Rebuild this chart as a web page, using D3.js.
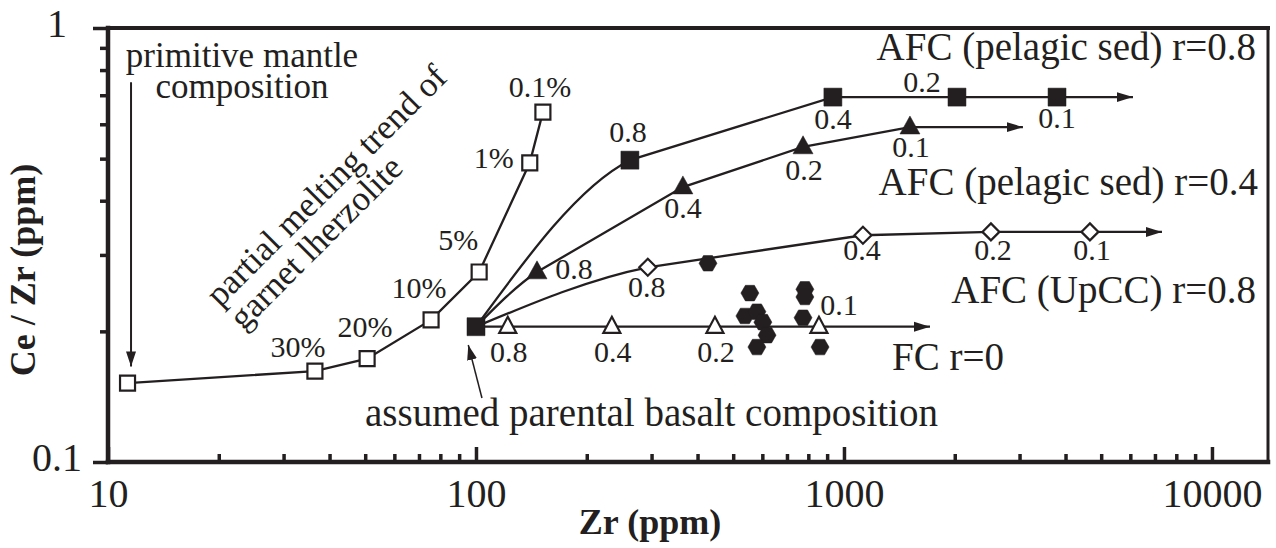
<!DOCTYPE html>
<html>
<head>
<meta charset="utf-8">
<script src="https://cdn.jsdelivr.net/npm/d3@7"></script>
<style>
  html, body { margin: 0; padding: 0; background: #fff; }
  svg { display: block; font-family: "Liberation Serif", "Times New Roman", serif; }
</style>
</head>
<body>
<div id="chart"></div>
<script>
/* ===== DATA ===== */
// partial melting trend of garnet lherzolite (open squares)
const meltZr = [11.3, 36.5, 50.6, 75.5, 102, 140, 152];
const meltRatio = [0.152, 0.162, 0.173, 0.2125, 0.274, 0.489, 0.640];
const meltLabels = ["", "30%", "20%", "10%", "5%", "1%", "0.1%"];

// assumed parental basalt
const parentZr = 100;
const parentRatio = 0.205;

// AFC (pelagic sed) r=0.8 (filled squares)
const afc08Zr = [262, 933, 2028, 3793];
const afc08Ratio = [0.496, 0.693, 0.693, 0.693];
const afc08End = 6100;

// AFC (pelagic sed) r=0.4 (filled triangles)
const afc04Zr = [146.5, 365, 774, 1511];
const afc04Ratio = [0.274, 0.430, 0.532, 0.591];
const afc04End = 3064;

// AFC (UpCC) r=0.8 (open diamonds)
const upccZr = [293, 1126, 2508, 4660];
const upccRatio = [0.281, 0.333, 0.339, 0.339];
const upccEnd = 7314;

// FC r=0 (open triangles)
const fcZr = [122, 234, 446, 855];
const fcRatio = [0.205, 0.205, 0.205, 0.205];
const fcEnd = 1713;

const fractionLabels = ["0.8", "0.4", "0.2", "0.1"];

// samples (filled hexagons)
const sampleZr = [427, 555, 538, 580, 602, 618, 580, 783, 783, 774, 861];
const sampleRatio = [0.287, 0.245, 0.217, 0.222, 0.210, 0.196, 0.184, 0.250, 0.240, 0.215, 0.184];

// axes
const xMajor = [10, 100, 1000, 10000];
const xMinor = [20, 30, 40, 50, 60, 70, 80, 90, 200, 300, 400, 500, 600, 700, 800, 900,
    2000, 3000, 4000, 5000, 6000, 7000, 8000, 9000];
const yMajor = [0.1, 1];
const yMinor = [0.2, 0.3, 0.4, 0.5, 0.6, 0.7, 0.8, 0.9];
const xDomain = [10, 14200];
const yDomain = [0.1, 1];

/* ===== LAYOUT ===== */
const width = 1276;
const height = 548;
const plotLeft = 108, plotRight = 1268, plotTop = 28, plotBottom = 462;
const ink = "#231f20";

// label offsets [dx, dy] from marker centre (text baseline, centred)
const meltLabelPos = [[0, 0], [-17, -14], [-2, -22], [-12, -22], [-21, -22], [-36, 5], [-3, -15]];
const afc08LabelPos = [[-2, -18], [0, 32], [-35, -5], [0, 31]];
const afc04LabelPos = [[37, 7], [0, 31], [1, 33], [1, 30]];
const upccLabelPos = [[-1, 30], [-1, 25], [2, 28], [2, 28]];
const fcLabelPos = [[1, 35], [1, 35], [1, 35], [20, -12]];

/* ===== SVG ===== */
const svg = d3.select("#chart")
    .append("svg")
    .attr("width", width)
    .attr("height", height)
    .attr("viewBox", `0 0 ${width} ${height}`);

const defs = svg.append("defs");
defs.append("marker")
    .attr("id", "arrowBig")
    .attr("viewBox", "0 -6 16 12")
    .attr("refX", 16).attr("refY", 0)
    .attr("markerWidth", 16).attr("markerHeight", 12)
    .attr("markerUnits", "userSpaceOnUse")
    .attr("orient", "auto")
    .append("path")
    .attr("d", "M0,-5L16,0L0,5Z")
    .attr("fill", ink);

defs.append("marker")
    .attr("id", "arrowSmall")
    .attr("viewBox", "0 -6 16 12")
    .attr("refX", 15).attr("refY", 0)
    .attr("markerWidth", 16).attr("markerHeight", 12)
    .attr("markerUnits", "userSpaceOnUse")
    .attr("orient", "auto")
    .append("path")
    .attr("d", "M0,-5L15,0L0,5Z")
    .attr("fill", ink);

/* ===== SCALES ===== */
const x = d3.scaleLog().domain(xDomain).range([plotLeft, plotRight]);
const y = d3.scaleLog().domain(yDomain).range([plotBottom, plotTop]);

/* ===== AXES ===== */
const xAxis = d3.axisBottom(x)
    .tickValues(xMajor.concat(xMinor))
    .tickSizeInner(-8)
    .tickSizeOuter(0)
    .tickFormat(d => xMajor.includes(d) ? d3.format("d")(d) : "");

const gx = svg.append("g")
    .attr("transform", `translate(0,${plotBottom})`)
    .call(xAxis);
gx.select(".domain").remove();
gx.selectAll(".tick line")
    .attr("stroke", ink)
    .attr("stroke-width", 3.5)
    .filter(d => xMajor.includes(d))
    .attr("y2", -15);
gx.selectAll(".tick text")
    .attr("y", 45)
    .attr("dy", 0)
    .attr("fill", ink)
    .attr("font-size", 40)
    .attr("font-family", "Liberation Serif, serif");

const yAxis = d3.axisLeft(y)
    .tickValues(yMajor.concat(yMinor))
    .tickSizeInner(8)
    .tickSizeOuter(0)
    .tickFormat(d => yMajor.includes(d) ? String(d) : "");

const gy = svg.append("g")
    .attr("transform", `translate(${plotLeft},0)`)
    .call(yAxis);
gy.select(".domain").remove();
gy.selectAll(".tick line")
    .attr("stroke", ink)
    .attr("stroke-width", 3.5)
    .filter(d => yMajor.includes(d))
    .attr("x2", -15);
gy.selectAll(".tick text")
    .attr("x", -51)
    .attr("dy", 8)
    .attr("text-anchor", "middle")
    .attr("fill", ink)
    .attr("font-size", 40)
    .attr("font-family", "Liberation Serif, serif");

/* ===== FRAME ===== */
const frame = svg.append("g").attr("stroke", ink).attr("stroke-linecap", "square");
frame.append("line").attr("x1", plotLeft).attr("x2", plotRight).attr("y1", plotTop).attr("y2", plotTop).attr("stroke-width", 4);
frame.append("line").attr("x1", plotLeft).attr("x2", plotRight).attr("y1", plotBottom).attr("y2", plotBottom).attr("stroke-width", 4.5);
frame.append("line").attr("x1", plotLeft).attr("x2", plotLeft).attr("y1", plotTop).attr("y2", plotBottom).attr("stroke-width", 4.5);
frame.append("line").attr("x1", plotRight).attr("x2", plotRight).attr("y1", plotTop).attr("y2", plotBottom).attr("stroke-width", 3);

/* ===== AXIS TITLES ===== */
svg.append("text")
    .attr("transform", `translate(35,270) rotate(-90)`)
    .attr("text-anchor", "middle")
    .attr("font-weight", "bold")
    .attr("font-size", 36)
    .attr("fill", ink)
    .text("Ce / Zr (ppm)");

svg.append("text")
    .attr("x", 650)
    .attr("y", 534)
    .attr("text-anchor", "middle")
    .attr("font-weight", "bold")
    .attr("font-size", 36)
    .attr("fill", ink)
    .text("Zr (ppm)");

/* ===== SYMBOLS ===== */
function squareType(s) {
    return { draw(ctx) { ctx.rect(-s / 2, -s / 2, s, s); } };
}
function triangleType(w, h) {
    return {
        draw(ctx) {
            ctx.moveTo(0, -h * 0.62);
            ctx.lineTo(w / 2, h * 0.38);
            ctx.lineTo(-w / 2, h * 0.38);
            ctx.closePath();
        }
    };
}
function diamondType(r) {
    return {
        draw(ctx) {
            ctx.moveTo(0, -r);
            ctx.lineTo(r, 0);
            ctx.lineTo(0, r);
            ctx.lineTo(-r, 0);
            ctx.closePath();
        }
    };
}
function hexagonType(r) {
    return {
        draw(ctx) {
            for (let i = 0; i < 6; i++) {
                const a = i * Math.PI / 3;
                const px = r * Math.cos(a), py = r * Math.sin(a);
                if (i === 0) ctx.moveTo(px, py); else ctx.lineTo(px, py);
            }
            ctx.closePath();
        }
    };
}

const symOpenSquare = d3.symbol().type(squareType(15))();
const symFilledSquare = d3.symbol().type(squareType(18))();
const symFilledTri = d3.symbol().type(triangleType(20, 18))();
const symOpenTri = d3.symbol().type(triangleType(17, 16))();
const symDiamond = d3.symbol().type(diamondType(8.5))();
const symHex = d3.symbol().type(hexagonType(9))();

/* ===== HELPERS ===== */
function zip(xs, ys, labels) {
    return xs.map((v, i) => ({ zr: v, ratio: ys[i], label: labels ? labels[i] : "" }));
}

const lineLinear = d3.line().x(d => x(d.zr)).y(d => y(d.ratio));

// curved first leg, straight legs afterwards
function trendPath(points) {
    const p = points.map(d => [x(d.zr), y(d.ratio)]);
    const path = d3.path();
    const [x0, y0] = p[0], [x1, y1] = p[1], [x2, y2] = p[2];
    const s0 = (y1 - y0) / (x1 - x0);
    const s1 = (y2 - y1) / (x2 - x1);
    const t1 = 0.75 * s1 + 0.25 * s0;
    const t0 = (3 * s0 - t1) / 2;
    const h = (x1 - x0) / 3;
    path.moveTo(x0, y0);
    path.bezierCurveTo(x0 + h, y0 + h * t0, x1 - h, y1 - h * t1, x1, y1);
    for (let i = 2; i < p.length; i++) path.lineTo(p[i][0], p[i][1]);
    return path.toString();
}

const lines = svg.append("g")
    .attr("fill", "none")
    .attr("stroke", ink)
    .attr("stroke-width", 2.3);

const marks = svg.append("g");
const labels = svg.append("g")
    .attr("fill", ink)
    .attr("font-size", 30)
    .attr("text-anchor", "middle");

function drawMarkers(points, symbol, filled) {
    marks.append("g")
        .selectAll("path")
        .data(points)
        .enter()
        .append("path")
        .attr("d", symbol)
        .attr("transform", d => `translate(${x(d.zr)},${y(d.ratio)})`)
        .attr("fill", filled ? ink : "#fff")
        .attr("stroke", ink)
        .attr("stroke-width", filled ? 0.5 : 2.2);
}

function drawLabels(points, offsets) {
    labels.append("g")
        .selectAll("text")
        .data(points)
        .enter()
        .append("text")
        .attr("x", (d, i) => x(d.zr) + offsets[i][0])
        .attr("y", (d, i) => y(d.ratio) + offsets[i][1])
        .text(d => d.label);
}

const parent = { zr: parentZr, ratio: parentRatio, label: "" };

/* ===== PARTIAL MELTING ===== */
const melt = zip(meltZr, meltRatio, meltLabels);
lines.append("path").attr("d", lineLinear(melt));

/* ===== AFC / FC TRENDS ===== */
const afc08 = zip(afc08Zr, afc08Ratio, fractionLabels);
const afc04 = zip(afc04Zr, afc04Ratio, fractionLabels);
const upcc = zip(upccZr, upccRatio, fractionLabels);
const fc = zip(fcZr, fcRatio, fractionLabels);

const trends = [
    { pts: afc08, end: afc08End },
    { pts: afc04, end: afc04End },
    { pts: upcc, end: upccEnd },
    { pts: fc, end: fcEnd }
];

trends.forEach(t => {
    const last = t.pts[t.pts.length - 1];
    const path = [parent].concat(t.pts, [{ zr: t.end, ratio: last.ratio }]);
    lines.append("path")
        .attr("d", trendPath(path))
        .attr("marker-end", "url(#arrowBig)");
});

/* ===== ANNOTATION ARROWS ===== */
const mantleArrow = [{ zr: 11.55, ratio: 0.75 }, { zr: 11.55, ratio: 0.166 }];
const parentArrow = [{ zr: 103.8, ratio: 0.1404 }, { zr: 95.3, ratio: 0.186 }];

svg.append("path")
    .attr("d", lineLinear(mantleArrow))
    .attr("stroke", ink)
    .attr("stroke-width", 2)
    .attr("fill", "none")
    .attr("marker-end", "url(#arrowSmall)");

svg.append("path")
    .attr("d", lineLinear(parentArrow))
    .attr("stroke", ink)
    .attr("stroke-width", 1.5)
    .attr("fill", "none")
    .attr("marker-end", "url(#arrowSmall)");

/* ===== MARKERS ===== */
drawMarkers(melt, symOpenSquare, false);
drawMarkers(upcc, symDiamond, false);
drawMarkers(fc, symOpenTri, false);
drawMarkers(afc04, symFilledTri, true);
drawMarkers(afc08, symFilledSquare, true);
drawMarkers([parent], symFilledSquare, true);
drawMarkers(zip(sampleZr, sampleRatio), symHex, true);

/* ===== POINT LABELS ===== */
drawLabels(melt, meltLabelPos);
drawLabels(afc08, afc08LabelPos);
drawLabels(afc04, afc04LabelPos);
drawLabels(upcc, upccLabelPos);
drawLabels(fc, fcLabelPos);

/* ===== TEXT ANNOTATIONS ===== */
const notes = svg.append("g").attr("fill", ink);

notes.append("text")
    .attr("x", 1256).attr("y", 60)
    .attr("text-anchor", "end").attr("font-size", 39)
    .text("AFC (pelagic sed) r=0.8");
notes.append("text")
    .attr("x", 1258).attr("y", 195)
    .attr("text-anchor", "end").attr("font-size", 39)
    .text("AFC (pelagic sed) r=0.4");
notes.append("text")
    .attr("x", 1256).attr("y", 303)
    .attr("text-anchor", "end").attr("font-size", 39)
    .text("AFC (UpCC) r=0.8");
notes.append("text")
    .attr("x", 892).attr("y", 370)
    .attr("font-size", 39)
    .text("FC r=0");
notes.append("text")
    .attr("x", 365).attr("y", 426)
    .attr("font-size", 39)
    .text("assumed parental basalt composition");

notes.append("text")
    .attr("x", 242).attr("y", 67)
    .attr("text-anchor", "middle").attr("font-size", 35)
    .text("primitive mantle");
notes.append("text")
    .attr("x", 242).attr("y", 98)
    .attr("text-anchor", "middle").attr("font-size", 35)
    .text("composition");

const diag = notes.append("g")
    .attr("transform", "translate(220,308) rotate(-45)")
    .attr("font-size", 35);
diag.append("text").attr("x", 0).attr("y", 0).text("partial melting trend of");
diag.append("text").attr("x", 0).attr("y", 33).text("garnet lherzolite");
</script>
</body>
</html>
